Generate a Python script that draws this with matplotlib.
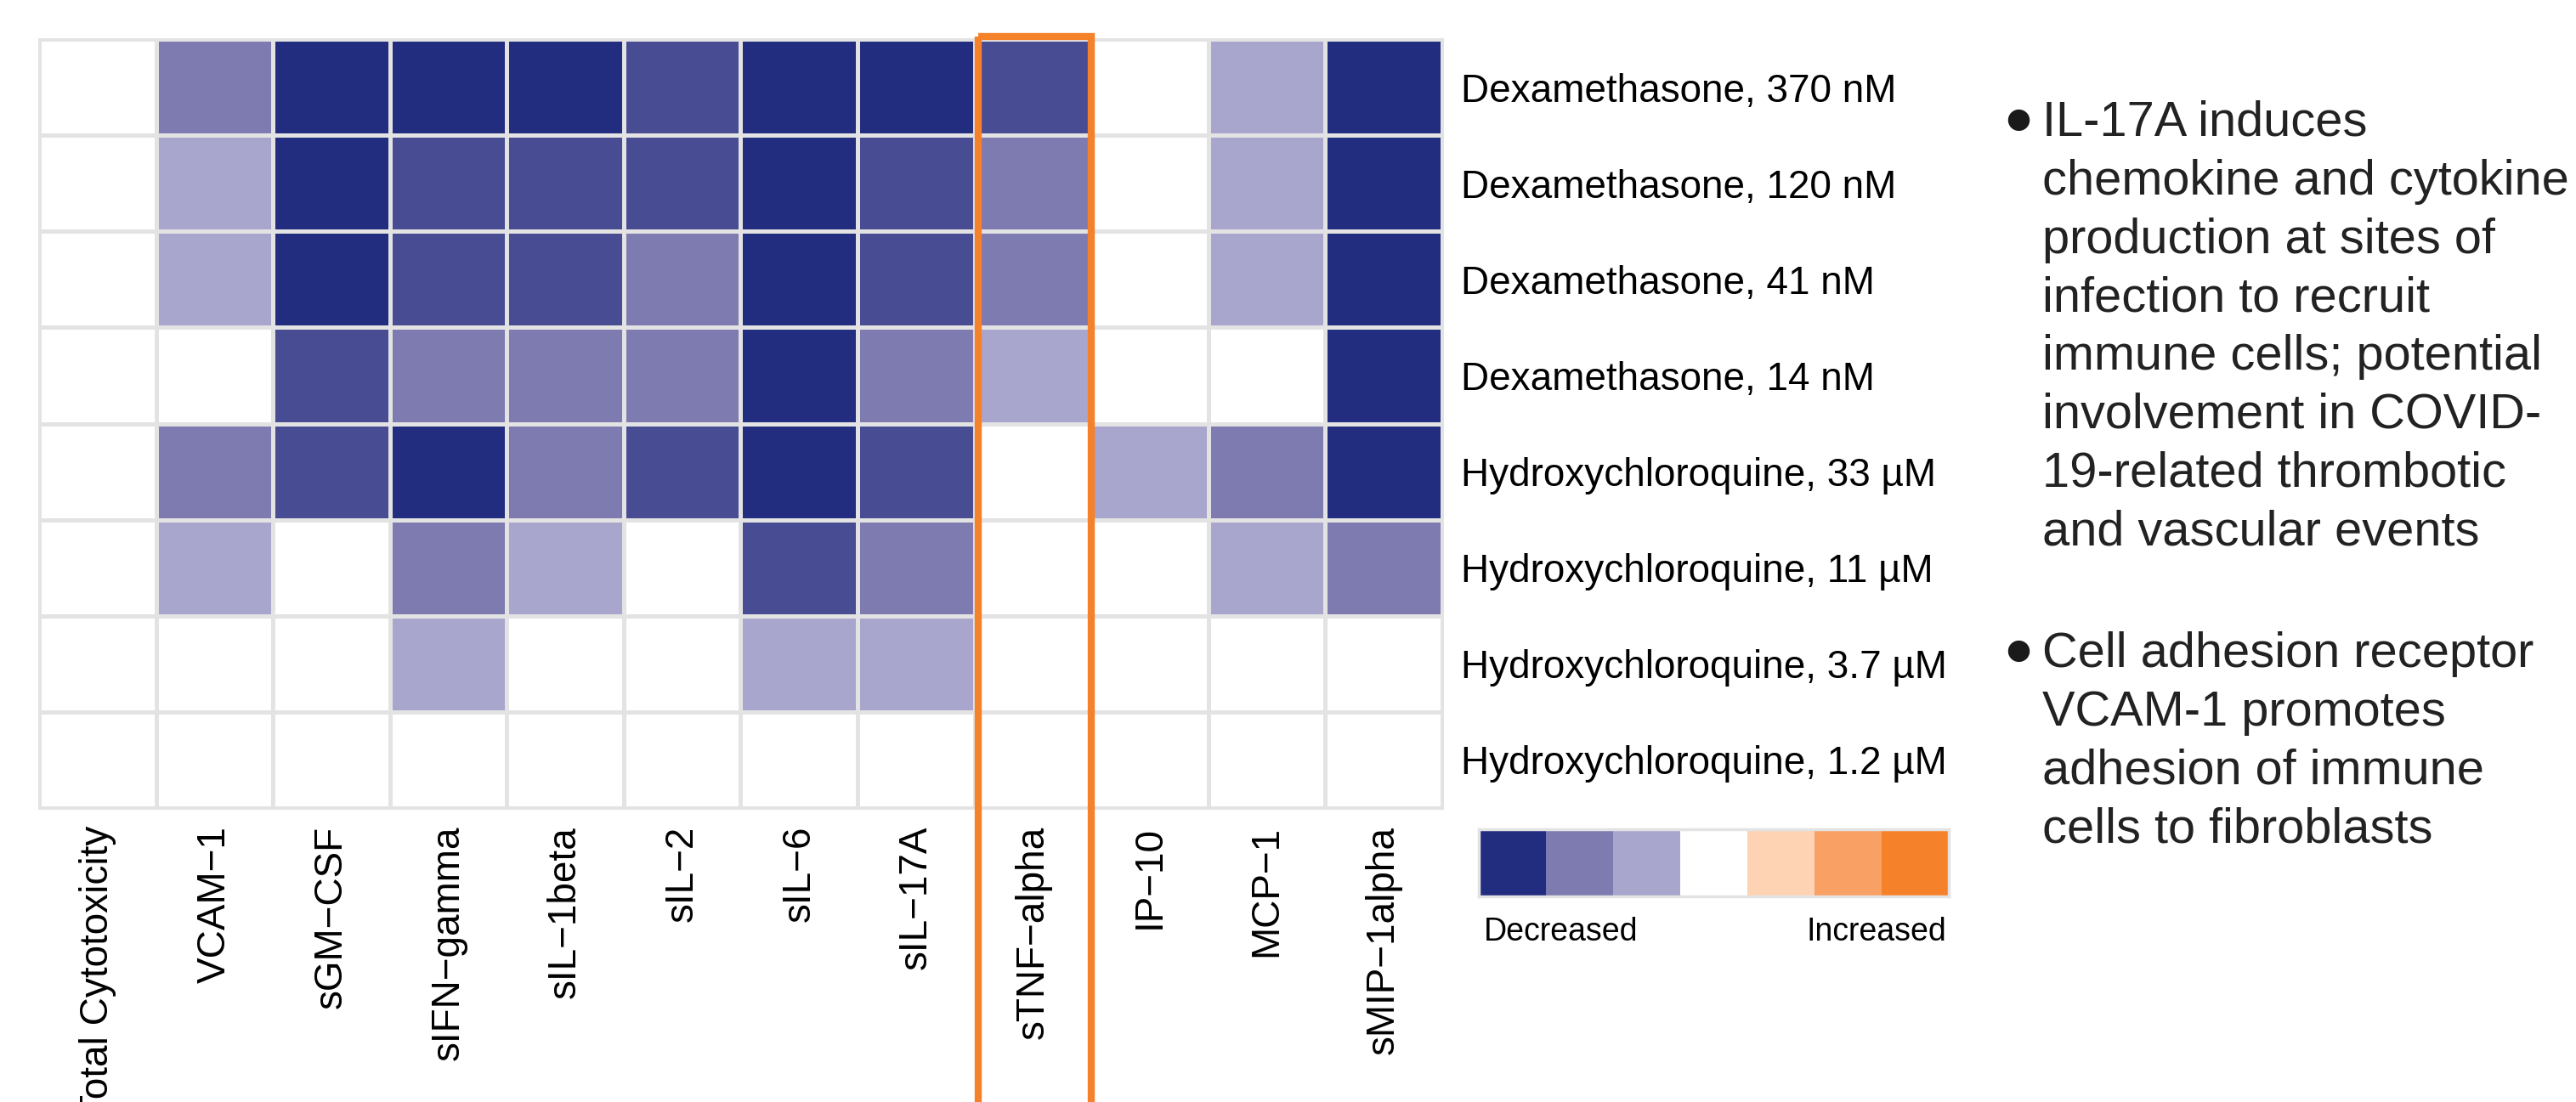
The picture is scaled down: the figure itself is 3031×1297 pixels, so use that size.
import matplotlib
matplotlib.use('Agg')
import matplotlib.pyplot as plt
import numpy as np
from matplotlib.colors import ListedColormap, BoundaryNorm
from matplotlib.patches import Rectangle

plt.rcParams['font.family'] = ['Liberation Sans', 'DejaVu Sans']

# ---------------- data ----------------
columns = ['Total Cytotoxicity', 'VCAM−1', 'sGM−CSF', 'sIFN−gamma', 'sIL−1beta',
           'sIL−2', 'sIL−6', 'sIL−17A', 'sTNF−alpha', 'IP−10', 'MCP−1', 'sMIP−1alpha']
rows = ['Dexamethasone, 370 nM', 'Dexamethasone, 120 nM', 'Dexamethasone, 41 nM',
        'Dexamethasone, 14 nM', 'Hydroxychloroquine, 33 µM', 'Hydroxychloroquine, 11 µM',
        'Hydroxychloroquine, 3.7 µM', 'Hydroxychloroquine, 1.2 µM']
# level of change: negative = decreased, positive = increased
dex_370 = [0, -2, -4, -4, -4, -3, -4, -4, -3, 0, -1, -4]
dex_120 = [0, -1, -4, -3, -3, -3, -4, -3, -2, 0, -1, -4]
dex_41 = [0, -1, -4, -3, -3, -2, -4, -3, -2, 0, -1, -4]
dex_14 = [0, 0, -3, -2, -2, -2, -4, -2, -1, 0, 0, -4]
hcq_33 = [0, -2, -3, -4, -2, -3, -4, -3, 0, -1, -2, -4]
hcq_11 = [0, -1, 0, -2, -1, 0, -3, -2, 0, 0, -1, -2]
hcq_3_7 = [0, 0, 0, -1, 0, 0, -1, -1, 0, 0, 0, 0]
hcq_1_2 = [0, 0, 0, 0, 0, 0, 0, 0, 0, 0, 0, 0]
values = [dex_370, dex_120, dex_41, dex_14, hcq_33, hcq_11, hcq_3_7, hcq_1_2]

legend_levels = [-4, -2, -1, 0, 1, 2, 3]
legend_labels = ['Decreased', 'Increased']
highlight_column = 'sTNF−alpha'

note_1 = ['IL-17A induces', 'chemokine and cytokine', 'production at sites of',
          'infection to recruit', 'immune cells; potential', 'involvement in COVID-',
          '19-related thrombotic', 'and vascular events']
note_2 = ['Cell adhesion receptor', 'VCAM-1 promotes', 'adhesion of immune',
          'cells to fibroblasts']
notes = [note_1, note_2]

# ---------------- style ----------------
level_colors = {-4: '#232D80', -3: '#484C93', -2: '#7D7BB0', -1: '#A8A6CC',
                0: '#FFFFFF', 1: '#FDD3B4', 2: '#F9A064', 3: '#F5822A'}
keys = sorted(level_colors)
cmap = ListedColormap([level_colors[k] for k in keys])
norm = BoundaryNorm(np.arange(keys[0] - 0.5, keys[-1] + 1.5, 1), cmap.N)
grid_col = '#E3E3E3'
orange = '#F5822A'

W, H = 3031, 1297
fig = plt.figure(figsize=(W / 100, H / 100), dpi=100)

def fx(px):
    return px / W

def fy(py):
    return 1 - py / H

# heatmap
ax = fig.add_axes([fx(46), fy(951), fx(1697) - fx(46), fy(46) - fy(951)])
data = np.array(values)
ax.pcolormesh(data, cmap=cmap, norm=norm, edgecolors=grid_col, linewidth=2.2)
ax.set_xlim(0, len(columns))
ax.set_ylim(len(rows), 0)
ax.set_xticks(np.arange(len(columns)) + 0.5)
ax.set_xticklabels(columns, rotation=90, fontsize=33)
ax.set_yticks(np.arange(len(rows)) + 0.5)
ax.set_yticklabels(rows, fontsize=33)
ax.yaxis.tick_right()
ax.tick_params(axis='x', length=0, pad=15)
ax.tick_params(axis='y', length=0, pad=16)
for s in ax.spines.values():
    s.set_color(grid_col)
    s.set_linewidth(2.2)

hi = columns.index(highlight_column)
ax.add_patch(Rectangle((hi + 0.03, -0.025), 0.97, 12, fill=False,
                       edgecolor=orange, linewidth=6, clip_on=False, zorder=5))

# legend bar
lax = fig.add_axes([fx(1740), fy(1055), fx(2293) - fx(1740), fy(976) - fy(1055)])
lax.pcolormesh(np.array([legend_levels]), cmap=cmap, norm=norm)
lax.set_xticks([])
lax.set_yticks([])
for s in lax.spines.values():
    s.set_color(grid_col)
    s.set_linewidth(2.5)
lax.text(0.01, -0.3, legend_labels[0], transform=lax.transAxes, ha='left', va='top', fontsize=27)
lax.text(0.995, -0.3, legend_labels[1], transform=lax.transAxes, ha='right', va='top', fontsize=27)

# notes
line_step = 68.8
starts = [160, 785]
for block, y0 in zip(notes, starts):
    fig.text(fx(2375), fy(y0 - 20), '●', ha='center', va='center', fontsize=24,
             family=['DejaVu Sans'], color='#1a1a1a')
    for i, line in enumerate(block):
        fig.text(fx(2403), fy(y0 + i * line_step), line, ha='left', va='baseline',
                 fontsize=41.6, color='#222222')

fig.savefig('out.png', dpi=100)
